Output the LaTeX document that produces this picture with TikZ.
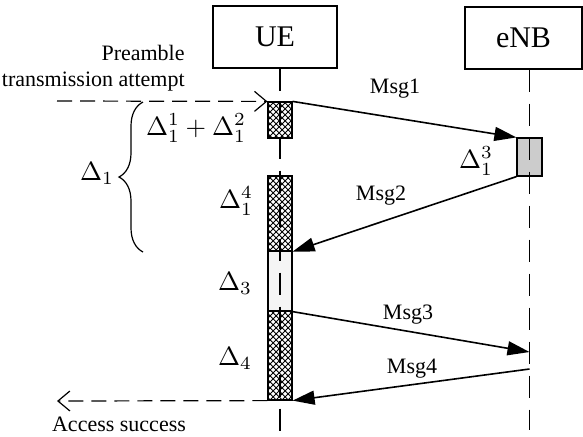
\documentclass[tikz,border=0pt]{standalone}
\usepackage{fontspec}
\setmainfont{Liberation Serif}
\usepackage{tikz}
\usetikzlibrary{arrows.meta}
\usetikzlibrary{patterns, decorations.pathreplacing}
\newcommand{\dl}[1]{\scalebox{1.32}{$#1$}}
\tikzstyle{entity} = [rectangle, draw=black, semithick, minimum width=62pt, minimum height=31pt, font=\fontsize{15}{17}\selectfont]
\tikzstyle{slot} = [rectangle, draw=black, semithick, inner sep=0pt, minimum width=12pt]
\tikzstyle{hatch} = [slot, pattern=crosshatch]
\tikzstyle{lifeline} = [semithick, dash pattern=on 11pt off 6pt]
\tikzstyle{msg} = [thick, -{Triangle[length=11pt,width=7pt]}]
\tikzstyle{event} = [semithick, dash pattern=on 7.5pt off 4pt, -{Straight Barb[length=6pt,width=10pt]}]
\tikzstyle{txt} = [font=\fontsize{11}{13}\selectfont, inner sep=1pt]
\tikzstyle{dlt} = [inner sep=0pt]

\begin{document}
\begin{tikzpicture}[x=0.5pt, y=-0.5pt]
\useasboundingbox (0,0) rectangle (583,436);

\node(ue)[entity] at (275,37) {UE};
\node(enb)[entity, minimum width=58.5pt] at (523.5,38) {eNB};

% time slots on the UE side
\node(attempt)[hatch, minimum height=18pt] at (280,120) {};
\node(wait)[hatch, minimum height=37.5pt] at (280,213.5) {};
\node(backoff)[slot, fill=gray!8, minimum height=30pt] at (280,281) {};
\node(resolve)[hatch, minimum height=44.5pt] at (280,355.5) {};
\node(proc)[slot, fill=gray!40, minimum height=19pt, minimum width=12.5pt] at (529.5,157) {};

\coordinate (ueend) at (280,432);
\coordinate (enbend) at (529.5,430);
\draw [lifeline] (ue.south -| attempt.center) -- (ueend);
\draw [lifeline] (enb.south -| proc.center) -- (enbend);

% messages
\coordinate (m3end) at (529.5,352);
\coordinate (m4start) at (529.5,369);
\draw [msg] (attempt.north east) -- (proc.north west);
\draw [msg] (proc.south west) -- (wait.south east);
\draw [msg] (backoff.south east) -- (m3end);
\draw [msg] (m4start) -- (resolve.south east);

\node(msg1)[txt] at (395,89) {Msg1};
\node(msg2)[txt] at (381,196) {Msg2};
\node(msg3)[txt] at (408,315) {Msg3};
\node(msg4)[txt] at (412,369) {Msg4};

% start and end of the access
\coordinate (pstart) at (57,101);
\coordinate (aend) at (57,401);
\draw [event] (pstart) -- (attempt.north west);
\draw [event] (resolve.south west) -- (aend);
\node(preamble)[txt, align=right, anchor=east] at (187,68) {Preamble\\transmission attempt};
\node(success)[txt] at (119,424) {Access success};

% delays
\node(d12)[dlt] at (196,128) {\dl{\Delta_1^1+\Delta_1^2}};
\node(d13)[dlt] at (476,161) {\dl{\Delta_1^3}};
\node(d14)[dlt] at (236,201) {\dl{\Delta_1^4}};
\node(d3)[dlt] at (235,283) {\dl{\Delta_3}};
\node(d4)[dlt] at (235,358) {\dl{\Delta_4}};
\coordinate (btop) at (143,102);
\coordinate (bbot) at (143,252);
\draw [semithick, decorate, decoration={brace, amplitude=12pt}] (bbot) -- (btop);
\node(d1)[dlt] at (97,173) {\dl{\Delta_1}};
\end{tikzpicture}
\end{document}
